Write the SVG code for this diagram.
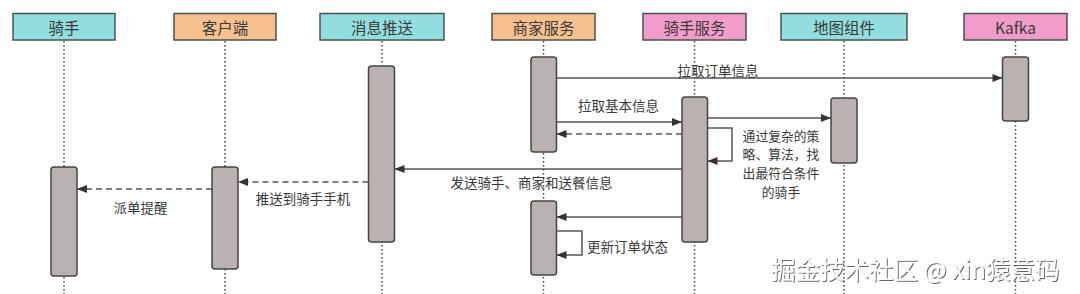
<svg xmlns="http://www.w3.org/2000/svg" width="1080" height="294" viewBox="0 0 1080 294">
<style>
.hdr{stroke:#4a5252;stroke-width:1.5}
.cyan{fill:#92dede}
.orange{fill:#f6c08f}
.pink{fill:#f29ccb}
.ht{font-family:"Noto Sans CJK SC","Noto Sans",sans-serif;font-size:15.5px;fill:#3a3a3a;text-anchor:middle;dominant-baseline:central}
.life{stroke:#444;stroke-width:1.5;stroke-dasharray:1.5 2.5;fill:none}
.act{fill:#bab1b0;stroke:#444;stroke-width:1.5}
.msg{stroke:#555;stroke-width:1.5;fill:none}
.dash{stroke-dasharray:6 4}
.lbl{font-family:"Noto Sans CJK SC","Noto Sans",sans-serif;font-size:13.5px;fill:#3a3a3a;dominant-baseline:central}
.note{font-size:12.8px}
.mid{text-anchor:middle}
.wm{font-family:"Noto Sans CJK SC","Noto Sans",sans-serif;font-size:24.5px;fill:#fff;dominant-baseline:central}
</style>
<defs>
<marker id="arr" viewBox="0 0 10 8" refX="10" refY="4" markerWidth="11" markerHeight="8" orient="auto" markerUnits="userSpaceOnUse"><path d="M0,0 L10,4 L0,8 z" fill="#333"/></marker>
<filter id="sh" x="-5%" y="-20%" width="110%" height="150%"><feDropShadow dx="1" dy="1" stdDeviation="0.6" flood-color="#555" flood-opacity="0.9"/></filter>
</defs>

<g id="lifelines">
<line class="life" x1="64" y1="41" x2="64" y2="294"/>
<line class="life" x1="225" y1="41" x2="225" y2="294"/>
<line class="life" x1="382" y1="41" x2="382" y2="294"/>
<line class="life" x1="543.5" y1="41" x2="543.5" y2="294"/>
<line class="life" x1="694.5" y1="41" x2="694.5" y2="294"/>
<line class="life" x1="844" y1="41" x2="844" y2="294"/>
<line class="life" x1="1015.5" y1="41" x2="1015.5" y2="294"/>
</g>

<g id="rider">
<rect class="hdr cyan" x="13" y="13.5" width="102" height="26.5"/>
<text class="ht" x="64" y="26.5">骑手</text>
<rect class="act" x="51" y="167" width="26" height="109" rx="3"/>
</g>
<g id="client">
<rect class="hdr orange" x="174" y="13.5" width="102" height="26.5"/>
<text class="ht" x="225" y="26.5">客户端</text>
<rect class="act" x="212" y="167" width="26" height="102" rx="3"/>
</g>
<g id="push">
<rect class="hdr cyan" x="320" y="13.5" width="124" height="26.5"/>
<text class="ht" x="382" y="26.5">消息推送</text>
<rect class="act" x="368.5" y="66" width="26" height="176" rx="3"/>
</g>
<g id="merchant">
<rect class="hdr orange" x="492" y="13.5" width="103" height="26.5"/>
<text class="ht" x="543.5" y="26.5">商家服务</text>
<rect class="act" x="531" y="57" width="25.5" height="95" rx="3"/>
<rect class="act" x="531" y="201" width="25.5" height="74" rx="3"/>
</g>
<g id="riderService">
<rect class="hdr pink" x="643" y="13.5" width="103" height="26.5"/>
<text class="ht" x="694.5" y="26.5">骑手服务</text>
<rect class="act" x="682" y="97" width="25.5" height="145" rx="3"/>
</g>
<g id="map">
<rect class="hdr cyan" x="781" y="13.5" width="126" height="26.5"/>
<text class="ht" x="844" y="26.5">地图组件</text>
<rect class="act" x="831" y="98" width="26" height="65" rx="3"/>
</g>
<g id="kafka">
<rect class="hdr pink" x="964" y="13.5" width="103" height="26.5"/>
<text class="ht" x="1015.5" y="26.5">Kafka</text>
<rect class="act" x="1002.5" y="57" width="26" height="64" rx="3"/>
</g>

<g id="connectors">
<line class="msg" x1="556.5" y1="78" x2="1002.5" y2="78" marker-end="url(#arr)"/>
<text class="lbl mid" x="718" y="70">拉取订单信息</text>

<line class="msg" x1="556.5" y1="122" x2="682" y2="122" marker-end="url(#arr)"/>
<text class="lbl mid" x="618.5" y="105">拉取基本信息</text>

<line class="msg dash" x1="682" y1="134" x2="556.5" y2="134" marker-end="url(#arr)"/>

<line class="msg" x1="707.5" y1="118" x2="831" y2="118" marker-end="url(#arr)"/>

<path class="msg" d="M707.5,128 H732 V161 H707.5" marker-end="url(#arr)"/>
<text class="lbl note mid" x="781" y="135">通过复杂的策</text>
<text class="lbl note mid" x="781" y="153.7">略、算法，找</text>
<text class="lbl note mid" x="781" y="172.4">出最符合条件</text>
<text class="lbl note mid" x="781" y="191.1">的骑手</text>

<line class="msg" x1="682" y1="169" x2="394.5" y2="169" marker-end="url(#arr)"/>
<text class="lbl mid" x="531.5" y="182">发送骑手、商家和送餐信息</text>

<line class="msg dash" x1="368.5" y1="182" x2="238" y2="182" marker-end="url(#arr)"/>
<text class="lbl mid" x="303" y="198">推送到骑手手机</text>

<line class="msg dash" x1="212" y1="189" x2="77" y2="189" marker-end="url(#arr)"/>
<text class="lbl mid" x="140.5" y="207">派单提醒</text>

<line class="msg" x1="682" y1="217" x2="556.5" y2="217" marker-end="url(#arr)"/>

<path class="msg" d="M556.5,231 H582 V255 H556.5" marker-end="url(#arr)"/>
<text class="lbl" x="587" y="246">更新订单状态</text>
</g>

<text class="wm" x="771" y="268" filter="url(#sh)">掘金技术社区 @ xin猿意码</text>
</svg>
